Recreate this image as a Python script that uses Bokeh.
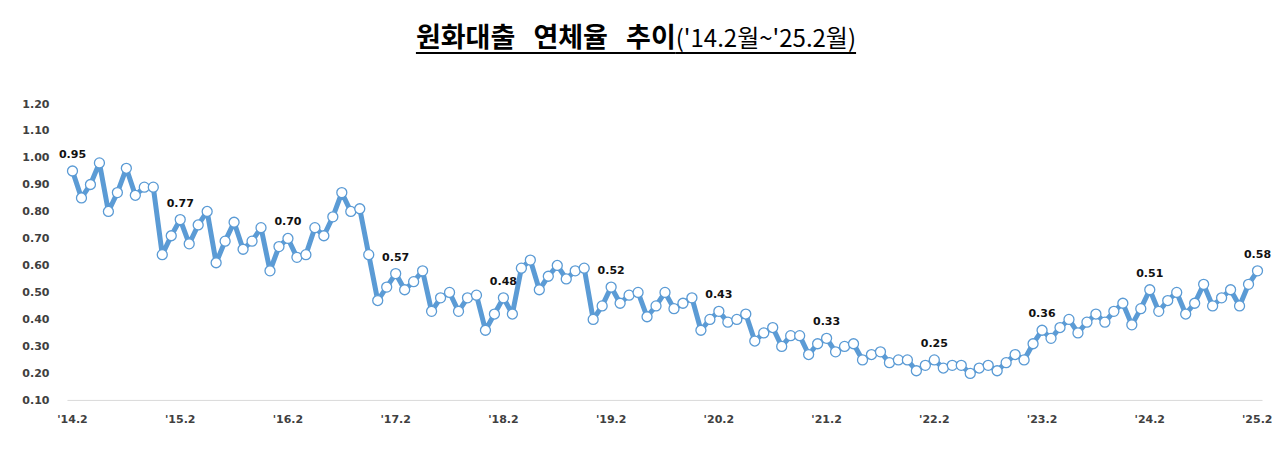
from bokeh.plotting import figure
from bokeh.models import ColumnDataSource, FixedTicker, NumeralTickFormatter, Range1d, Div, LabelSet
from bokeh.layouts import column
from bokeh.core.properties import value
from bokeh.embed import file_html
from bokeh.resources import INLINE

# 원화대출 연체율 (%), 2014.2 ~ 2025.2 월별
rates = [
    0.95, 0.85, 0.90, 0.98, 0.80, 0.87, 0.96, 0.86, 0.89, 0.89, 0.64, 0.71,
    0.77, 0.68, 0.75, 0.80, 0.61, 0.69, 0.76, 0.66, 0.69, 0.74, 0.58, 0.67,
    0.70, 0.63, 0.64, 0.74, 0.71, 0.78, 0.87, 0.80, 0.81, 0.64, 0.47, 0.52,
    0.57, 0.51, 0.54, 0.58, 0.43, 0.48, 0.50, 0.43, 0.48, 0.49, 0.36, 0.42,
    0.48, 0.42, 0.59, 0.62, 0.51, 0.56, 0.60, 0.55, 0.58, 0.59, 0.40, 0.45,
    0.52, 0.46, 0.49, 0.50, 0.41, 0.45, 0.50, 0.44, 0.46, 0.48, 0.36, 0.40,
    0.43, 0.39, 0.40, 0.42, 0.32, 0.35, 0.37, 0.30, 0.34, 0.34, 0.27, 0.31,
    0.33, 0.28, 0.30, 0.31, 0.25, 0.27, 0.28, 0.24, 0.25, 0.25, 0.21, 0.23,
    0.25, 0.22, 0.23, 0.23, 0.20, 0.22, 0.23, 0.21, 0.24, 0.27, 0.25, 0.31,
    0.36, 0.33, 0.37, 0.40, 0.35, 0.39, 0.42, 0.39, 0.43, 0.46, 0.38, 0.44,
    0.51, 0.43, 0.47, 0.50, 0.42, 0.46, 0.53, 0.45, 0.48, 0.51, 0.45, 0.53,
    0.58,
]
tick_labels = ["'14.2", "'15.2", "'16.2", "'17.2", "'18.2", "'19.2",
               "'20.2", "'21.2", "'22.2", "'23.2", "'24.2", "'25.2"]
y_ticks = [0.10, 0.20, 0.30, 0.40, 0.50, 0.60, 0.70, 0.80, 0.90, 1.00, 1.10, 1.20]

BLUE = "#5B9BD5"
AXIS_TXT = "#404040"
FONT = "DejaVu Sans"

xs = list(range(len(rates)))
feb_idx = [i for i in xs if i % 12 == 0]   # 매년 2월

source = ColumnDataSource(data=dict(x=xs, rate=rates))
label_source = ColumnDataSource(data=dict(
    x=feb_idx,
    rate=[rates[i] for i in feb_idx],
    label=["%.2f" % rates[i] for i in feb_idx],
))

title = Div(
    text="""<div style="width:1272px;text-align:center;padding-top:17px;font-family:'Noto Sans CJK KR';color:#000;">
<span style="text-decoration:underline;text-decoration-thickness:2px;text-underline-offset:5px;">
<b style="font-size:27px;word-spacing:12px;">원화대출 연체율 추이</b><span style="font-size:24px;">('14.2월~'25.2월)</span>
</span></div>""",
    width=1272, height=70, margin=0,
)

# 프레임을 좌우로 넉넉히 잡아 양 끝 데이터 레이블이 잘리지 않게 함
p = figure(width=1272, height=377,
           x_range=Range1d(-1.67, len(rates) - 1 + 1.67),
           y_range=Range1d(y_ticks[0] - 0.004, y_ticks[-1]),
           output_backend="svg", toolbar_location=None,
           min_border_left=57, min_border_right=0,
           min_border_top=33, min_border_bottom=46)

# 가로축 기준선 (축선 대신 데이터 구간만큼)
p.segment(x0=[xs[0] - 0.56], x1=[xs[-1] + 0.56], y0=[y_ticks[0]], y1=[y_ticks[0]],
          line_color="#D9D9D9", line_width=1)

p.line('x', 'rate', source=source, line_color=BLUE, line_width=5)
p.scatter('x', 'rate', source=source, size=10, fill_color="white",
          line_color=BLUE, line_width=1.3)

labels = LabelSet(x='x', y='rate', text='label', source=label_source,
                  text_align='center', text_baseline='bottom', y_offset=13,
                  text_font=value(FONT), text_font_style='bold',
                  text_font_size='11px', text_color='#111111')
p.add_layout(labels)

p.xgrid.visible = False
p.ygrid.visible = False
p.outline_line_color = None

p.xaxis.ticker = FixedTicker(ticks=feb_idx)
p.xaxis.major_label_overrides = {i: lab for i, lab in zip(feb_idx, tick_labels)}
p.xaxis.axis_line_color = None
p.xaxis.major_tick_line_color = None
p.xaxis.minor_tick_line_color = None
p.xaxis.major_tick_out = 0
p.xaxis.major_label_standoff = 11

p.yaxis.ticker = FixedTicker(ticks=y_ticks)
p.yaxis.formatter = NumeralTickFormatter(format="0.00")
p.yaxis.axis_line_color = None
p.yaxis.major_tick_line_color = None
p.yaxis.minor_tick_line_color = None
p.yaxis.major_tick_out = 0
p.yaxis.major_label_standoff = 8

for ax in (p.xaxis, p.yaxis):
    ax.major_label_text_font = FONT
    ax.major_label_text_font_style = "bold"
    ax.major_label_text_font_size = "11px"
    ax.major_label_text_color = AXIS_TXT

layout = column(title, p, spacing=0)
open("out.html", "w").write(file_html(layout, INLINE))
